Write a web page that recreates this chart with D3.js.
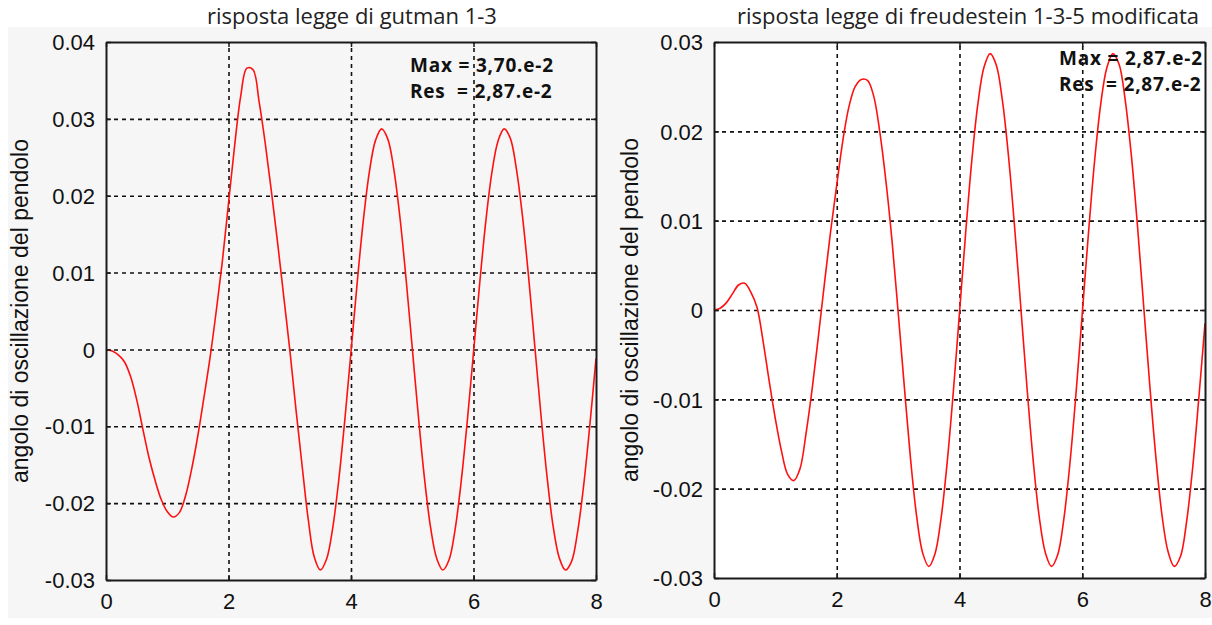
<!DOCTYPE html>
<html>
<head>
<meta charset="utf-8">
<script src="https://cdn.jsdelivr.net/npm/d3@7"></script>
<style>
  html, body { margin: 0; padding: 0; background: #ffffff; }
  svg { display: block; }
</style>
</head>
<body>
<svg id="chart" width="1212" height="625"></svg>
<script>
// ---- data ----
const timeValues = [
  0.0,0.1,0.2,0.3,0.4,0.5,0.6,0.7,0.8,0.9,
  1.0,1.1,1.2,1.3,1.4,1.5,1.6,1.7,1.8,1.9,
  2.0,2.1,2.2,2.3,2.4,2.5,2.6,2.7,2.8,2.9,
  3.0,3.1,3.2,3.3,3.4,3.5,3.6,3.7,3.8,3.9,
  4.0,4.1,4.2,4.3,4.4,4.5,4.6,4.7,4.8,4.9,
  5.0,5.1,5.2,5.3,5.4,5.5,5.6,5.7,5.8,5.9,
  6.0,6.1,6.2,6.3,6.4,6.5,6.6,6.7,6.8,6.9,
  7.0,7.1,7.2,7.3,7.4,7.5,7.6,7.7,7.8,7.9,
  8.0
];

const gutmanValues = [
  0.0000,-0.0002,-0.0007,-0.0016,-0.0035,-0.0065,-0.0103,-0.0140,-0.0170,-0.0195,
  -0.0211,-0.0218,-0.0212,-0.0190,-0.0155,-0.0112,-0.0062,-0.0010,0.0050,0.0115,
  0.0190,0.0265,0.0330,0.0366,0.0364,0.0322,0.0268,0.0206,0.0140,0.0070,
  0.0000,-0.0077,-0.0150,-0.0220,-0.0270,-0.0287,-0.0273,-0.0233,-0.0170,-0.0091,
  -0.0003,0.0086,0.0167,0.0231,0.0272,0.0287,0.0274,0.0234,0.0171,0.0091,
  0.0002,-0.0087,-0.0168,-0.0232,-0.0272,-0.0287,-0.0274,-0.0234,-0.0171,-0.0092,
  -0.0004,0.0085,0.0166,0.0230,0.0271,0.0287,0.0275,0.0235,0.0173,0.0094,
  0.0005,-0.0084,-0.0165,-0.0230,-0.0271,-0.0287,-0.0276,-0.0237,-0.0176,-0.0098,
  -0.0012
];

const freudensteinValues = [
  0.0000,0.0002,0.0008,0.0018,0.0028,0.0030,0.0020,0.0003,-0.0035,-0.0080,
  -0.0122,-0.0158,-0.0184,-0.0191,-0.0178,-0.0138,-0.0088,-0.0030,0.0030,0.0088,
  0.0140,0.0190,0.0228,0.0250,0.0258,0.0257,0.0240,0.0200,0.0145,0.0078,
  -0.0002,-0.0085,-0.0165,-0.0230,-0.0272,-0.0287,-0.0273,-0.0233,-0.0170,-0.0091,
  -0.0003,0.0086,0.0167,0.0231,0.0272,0.0287,0.0274,0.0234,0.0171,0.0091,
  0.0002,-0.0087,-0.0168,-0.0232,-0.0272,-0.0287,-0.0274,-0.0234,-0.0171,-0.0092,
  -0.0004,0.0085,0.0166,0.0230,0.0271,0.0287,0.0275,0.0235,0.0173,0.0094,
  0.0005,-0.0084,-0.0165,-0.0230,-0.0271,-0.0287,-0.0276,-0.0237,-0.0176,-0.0098,
  -0.0015
];

const xTicks = [0, 2, 4, 6, 8];
const leftYTicks = [-0.03, -0.02, -0.01, 0, 0.01, 0.02, 0.03, 0.04];
const rightYTicks = [-0.03, -0.02, -0.01, 0, 0.01, 0.02, 0.03];
const titles = ["risposta legge di gutman 1-3", "risposta legge di freudestein 1-3-5 modificata"];
const yLabel = "angolo di oscillazione del pendolo";
const leftNotes = ["Max = 3,70.e-2", "Res  = 2,87.e-2"];
const rightNotes = ["Max = 2,87.e-2", "Res  = 2,87.e-2"];

// ---- drawing ----
const svg = d3.select("#chart");
svg.append("rect").attr("x", 8).attr("y", 27).attr("width", 1204).attr("height", 591).attr("fill", "#f6f6f6");

const panels = [
  { x0: 106, x1: 596, y0: 42, y1: 580, yDomain: [-0.03, 0.04], yTicks: leftYTicks, values: gutmanValues,
    title: titles[0], titleX: 352, notes: leftNotes, noteX: 410, noteY: [72, 98], plotBg: "#f6f6f6", labelX: 28 },
  { x0: 714, x1: 1205, y0: 42, y1: 578, yDomain: [-0.03, 0.03], yTicks: rightYTicks, values: freudensteinValues,
    title: titles[1], titleX: 968, notes: rightNotes, noteX: 1059, noteY: [65, 91], plotBg: "#ffffff", labelX: 638 }
];

const fmt = d => d === 0 ? "0" : d3.format(".2f")(d).replace("\u2212", "-");

panels.forEach(p => {
  const x = d3.scaleLinear().domain([0, 8]).range([p.x0, p.x1]);
  const y = d3.scaleLinear().domain(p.yDomain).range([p.y1, p.y0]);
  const g = svg.append("g");
  const w = p.x1 - p.x0, h = p.y1 - p.y0;

  g.append("rect").attr("x", p.x0).attr("y", p.y0).attr("width", w).attr("height", h).attr("fill", p.plotBg);

  // grid
  const gridX = g.append("g").attr("transform", `translate(0,${p.y1})`)
    .call(d3.axisBottom(x).tickValues(xTicks.slice(1, -1)).tickSize(-h).tickFormat(""));
  const gridY = g.append("g").attr("transform", `translate(${p.x0},0)`)
    .call(d3.axisLeft(y).tickValues(p.yTicks.slice(1, -1)).tickSize(-w).tickFormat(""));
  [gridX, gridY].forEach(gg => {
    gg.select(".domain").remove();
    gg.selectAll("line").attr("stroke", "#111").attr("stroke-width", 1.6).attr("stroke-dasharray", "4,4");
  });

  // curve
  const line = d3.line().x((d, i) => x(timeValues[i])).y(d => y(d)).curve(d3.curveCatmullRom);
  g.append("path").datum(p.values).attr("d", line).attr("fill", "none").attr("stroke", "#ff1010").attr("stroke-width", 1.6);

  // axes with inward ticks
  const axB = g.append("g").attr("transform", `translate(0,${p.y1})`)
    .call(d3.axisBottom(x).tickValues(xTicks).tickSizeInner(-5).tickSizeOuter(0).tickPadding(13).tickFormat(d3.format("d")));
  const axL = g.append("g").attr("transform", `translate(${p.x0},0)`)
    .call(d3.axisLeft(y).tickValues(p.yTicks).tickSizeInner(-5).tickSizeOuter(0).tickPadding(11).tickFormat(fmt));
  const axT = g.append("g").attr("transform", `translate(0,${p.y0})`)
    .call(d3.axisTop(x).tickValues(xTicks).tickSizeInner(-5).tickSizeOuter(0).tickFormat(""));
  const axR = g.append("g").attr("transform", `translate(${p.x1},0)`)
    .call(d3.axisRight(y).tickValues(p.yTicks).tickSizeInner(-5).tickSizeOuter(0).tickFormat(""));
  [axB, axL, axT, axR].forEach(a => {
    a.select(".domain").attr("stroke", "#1a1a1a").attr("stroke-width", 2);
    a.selectAll("line").attr("stroke", "#1a1a1a").attr("stroke-width", 1.5);
    a.selectAll("text").attr("fill", "#111").style("font-family", "'Liberation Sans', Arial, sans-serif").style("font-size", "22px");
  });
  axB.selectAll("text").attr("dy", "0.71em");
  axL.selectAll("text").attr("dy", "0.35em");

  // title
  svg.append("text").attr("x", p.titleX).attr("y", 24).attr("text-anchor", "middle")
    .style("font-family", "'Open Sans', 'Noto Sans', sans-serif").style("font-size", "22px").attr("fill", "#222")
    .text(p.title);

  // notes
  p.notes.forEach((t, i) => {
    svg.append("text").attr("x", p.noteX).attr("y", p.noteY[i]).attr("xml:space", "preserve")
      .style("white-space", "pre")
      .style("font-family", "'Open Sans', 'Noto Sans', sans-serif").style("font-size", "19px").style("font-weight", "bold")
      .style("letter-spacing", "0.8px")
      .attr("fill", "#111").text(t);
  });

  // y label
  svg.append("text").attr("transform", `translate(${p.labelX},${(p.y0 + p.y1) / 2}) rotate(-90)`)
    .attr("text-anchor", "middle")
    .style("font-family", "'Liberation Sans', Arial, sans-serif").style("font-size", "23px").attr("fill", "#111")
    .text(yLabel);
});
</script>
</body>
</html>
